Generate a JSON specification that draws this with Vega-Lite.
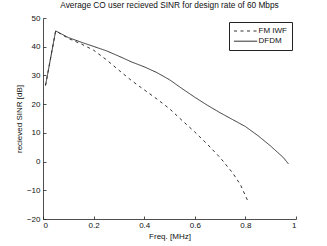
{
  "$schema": "https://vega.github.io/schema/vega-lite/v6.json",
  "autosize": {"type": "none"},
  "width": 253,
  "height": 201,
  "padding": {"left": 43, "top": 18, "right": 31, "bottom": 27},
  "background": "white",
  "config": {
    "view": {"stroke": null},
    "font": "Liberation Sans",
    "axis": {"grid": false, "domainColor": "#222", "tickColor": "#222", "labelColor": "#111", "titleColor": "#111", "labelFont": "Liberation Sans", "titleFont": "Liberation Sans", "labelFontSize": 8, "titleFontSize": 8, "titleFontWeight": "normal", "tickSize": -3, "domainWidth": 0.8, "tickWidth": 0.8}
  },
  "title": {"text": "Average CO user recieved SINR for design rate of 60 Mbps", "fontSize": 8.3, "fontWeight": "normal", "font": "Liberation Sans", "color": "#111", "anchor": "middle", "frame": "group", "offset": 5},
  "data": {"values": [
    {"series": "DFDM", "f": 0.01, "s": 26.5},
    {"series": "DFDM", "f": 0.05, "s": 45.5},
    {"series": "DFDM", "f": 0.1, "s": 43.2},
    {"series": "DFDM", "f": 0.15, "s": 41.6},
    {"series": "DFDM", "f": 0.2, "s": 40.1},
    {"series": "DFDM", "f": 0.25, "s": 38.6},
    {"series": "DFDM", "f": 0.3, "s": 36.7},
    {"series": "DFDM", "f": 0.35, "s": 34.7},
    {"series": "DFDM", "f": 0.4, "s": 33.0},
    {"series": "DFDM", "f": 0.45, "s": 31.0},
    {"series": "DFDM", "f": 0.5, "s": 28.5},
    {"series": "DFDM", "f": 0.55, "s": 25.4},
    {"series": "DFDM", "f": 0.6, "s": 22.4},
    {"series": "DFDM", "f": 0.65, "s": 19.6},
    {"series": "DFDM", "f": 0.7, "s": 17.0},
    {"series": "DFDM", "f": 0.75, "s": 14.6},
    {"series": "DFDM", "f": 0.8, "s": 12.2},
    {"series": "DFDM", "f": 0.85, "s": 9.0},
    {"series": "DFDM", "f": 0.9, "s": 5.4},
    {"series": "DFDM", "f": 0.95, "s": 1.4},
    {"series": "DFDM", "f": 0.97, "s": -0.8},
    {"series": "FM IWF", "f": 0.01, "s": 26.5},
    {"series": "FM IWF", "f": 0.05, "s": 45.5},
    {"series": "FM IWF", "f": 0.1, "s": 42.9},
    {"series": "FM IWF", "f": 0.15, "s": 41.0},
    {"series": "FM IWF", "f": 0.2, "s": 38.8},
    {"series": "FM IWF", "f": 0.25, "s": 35.5},
    {"series": "FM IWF", "f": 0.3, "s": 31.8},
    {"series": "FM IWF", "f": 0.35, "s": 28.2},
    {"series": "FM IWF", "f": 0.4, "s": 25.0},
    {"series": "FM IWF", "f": 0.45, "s": 21.8},
    {"series": "FM IWF", "f": 0.5, "s": 18.4},
    {"series": "FM IWF", "f": 0.55, "s": 14.3},
    {"series": "FM IWF", "f": 0.6, "s": 10.3},
    {"series": "FM IWF", "f": 0.65, "s": 6.0},
    {"series": "FM IWF", "f": 0.7, "s": 1.4},
    {"series": "FM IWF", "f": 0.75, "s": -4.0},
    {"series": "FM IWF", "f": 0.78, "s": -8.0},
    {"series": "FM IWF", "f": 0.81, "s": -13.8}
  ]},
  "mark": {"type": "line", "stroke": "#333", "strokeWidth": 1},
  "encoding": {
    "x": {"field": "f", "type": "quantitative", "scale": {"domain": [0, 1], "nice": false}, "axis": {"values": [0, 0.2, 0.4, 0.6, 0.8, 1], "format": "~g", "title": "Freq. [MHz]", "labelPadding": 5, "titlePadding": 3}},
    "y": {"field": "s", "type": "quantitative", "scale": {"domain": [-20, 50], "nice": false}, "axis": {"values": [-20, -10, 0, 10, 20, 30, 40, 50], "title": "recieved SINR [dB]", "labelPadding": 6, "titlePadding": 3}},
    "strokeDash": {"field": "series", "type": "nominal", "scale": {"domain": ["FM IWF", "DFDM"], "range": [[3, 3.5], [1, 0]]}, "legend": {"title": null, "orient": "none", "legendX": 186, "legendY": 4, "symbolType": "M-1,0H4.8", "symbolSize": 64, "symbolFillColor": "transparent", "symbolStrokeColor": "#333", "symbolStrokeWidth": 1, "labelFontSize": 8, "labelFont": "Liberation Sans", "labelColor": "#111", "strokeColor": "#222", "padding": 4.5, "rowPadding": 1.2, "labelOffset": 16, "fillColor": "white"}}
  }
}
